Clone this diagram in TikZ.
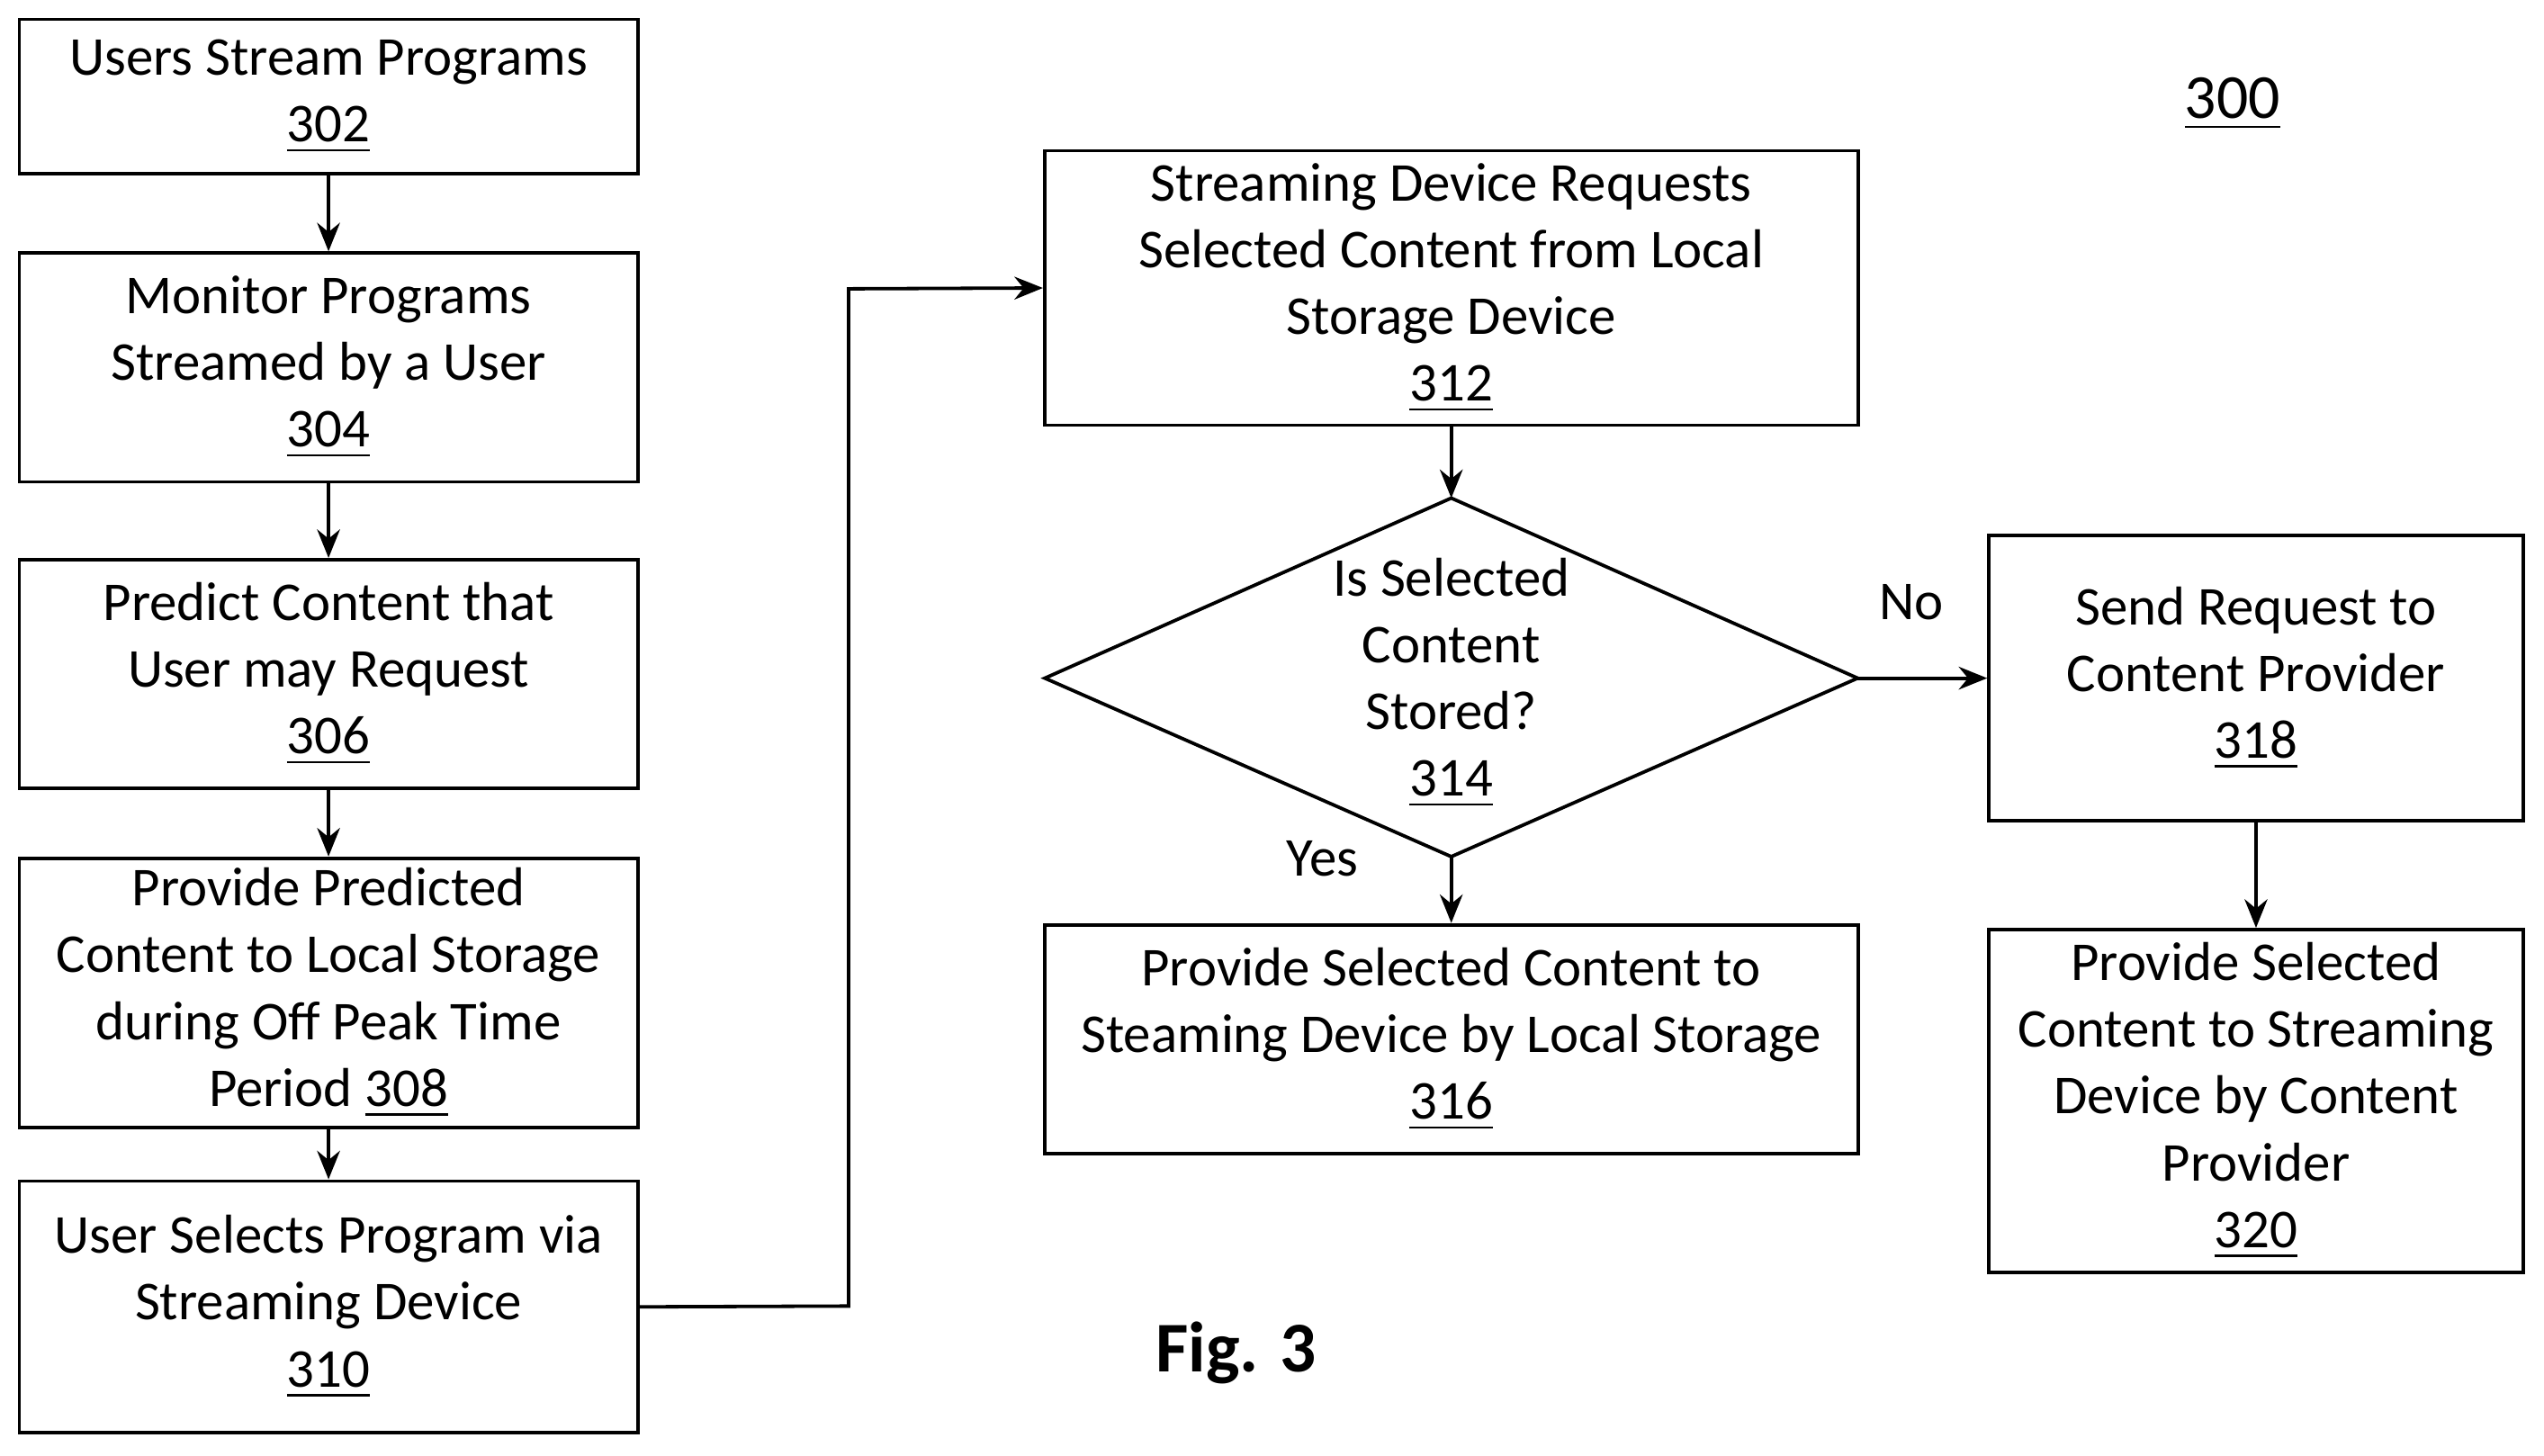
\documentclass[tikz,border=0pt]{standalone}
\usepackage{fontspec}
\setmainfont{Carlito}
\usetikzlibrary{shapes.geometric,arrows.meta}
\begin{document}
\begin{tikzpicture}[x=0.01cm,y=-0.01cm,
  box/.style={draw,line width=0.6pt,rectangle,inner sep=0pt,align=center,font=\fontsize{9.6}{11.7}\selectfont},
  lbl/.style={font=\fontsize{9.6}{11.7}\selectfont},
  arr/.style={line width=0.6pt,-{Stealth[length=5pt,width=4pt]}}]
\useasboundingbox (0,0) rectangle (1568,897);
\node[box,minimum width=3.81cm,minimum height=0.95cm] (b302) at (202.5,59.5) {Users Stream Programs\\\underline{302}};
\node[box,minimum width=3.81cm,minimum height=1.41cm] (b304) at (202.5,226.5) {Monitor Programs\\Streamed by a User\\\underline{304}};
\node[box,minimum width=3.81cm,minimum height=1.41cm] (b306) at (202.5,415.5) {Predict Content that\\User may Request\\\underline{306}};
\node[box,minimum width=3.81cm,minimum height=1.66cm] (b308) at (202.5,612) {Provide Predicted\\Content to Local Storage\\during Off Peak Time\\Period \underline{308}};
\node[box,minimum width=3.81cm,minimum height=1.55cm] (b310) at (202.5,805.5) {User Selects Program via\\Streaming Device\\\underline{310}};
\node[box,minimum width=5.01cm,minimum height=1.69cm] (b312) at (894.5,177.5) {Streaming Device Requests\\Selected Content from Local\\Storage Device\\\underline{312}};
\draw[line width=0.6pt] (644,418) -- (894.5,307) -- (1145,418) -- (894.5,528) -- cycle;
\coordinate (dL) at (644,418); \coordinate (dT) at (894.5,307);
\coordinate (dR) at (1145,418); \coordinate (dB) at (894.5,528);
\node[lbl,align=center] (d314) at (894.5,421) {Is Selected\\Content\\Stored?\\\underline{314}};
\node[box,minimum width=5.01cm,minimum height=1.41cm] (b316) at (894.5,640.5) {Provide Selected Content to\\Steaming Device by Local Storage\\\underline{316}};
\node[box,minimum width=3.29cm,minimum height=1.76cm] (b318) at (1390.5,418) {Send Request to\\Content Provider\\\underline{318}};
\node[box,minimum width=3.29cm,minimum height=2.11cm] (b320) at (1390.5,678.5) {Provide Selected\\Content to Streaming\\Device by Content\\Provider\\\underline{320}};
\node[font=\fontsize{11}{13}\selectfont] (n300) at (1376,64) {\underline{300}};
\node[font=\fontsize{12.5}{15}\selectfont\bfseries] (fig) at (762,834) {Fig. 3};
\node[lbl] (no) at (1178,371) {No};
\node[lbl] (yes) at (815,529) {Yes};
\draw[arr] (b302) -- (b304);
\draw[arr] (b304) -- (b306);
\draw[arr] (b306) -- (b308);
\draw[arr] (b308) -- (b310);
\coordinate (c1) at (523,805); \coordinate (c2) at (523,178);
\draw[arr] (b310.east) -- (c1) -- (c2) -- (b312.west);
\draw[arr] (b312) -- (dT);
\draw[arr] (dB) -- (b316);
\draw[arr] (dR) -- (b318.west);
\draw[arr] (b318) -- (b320);
\end{tikzpicture}
\end{document}
